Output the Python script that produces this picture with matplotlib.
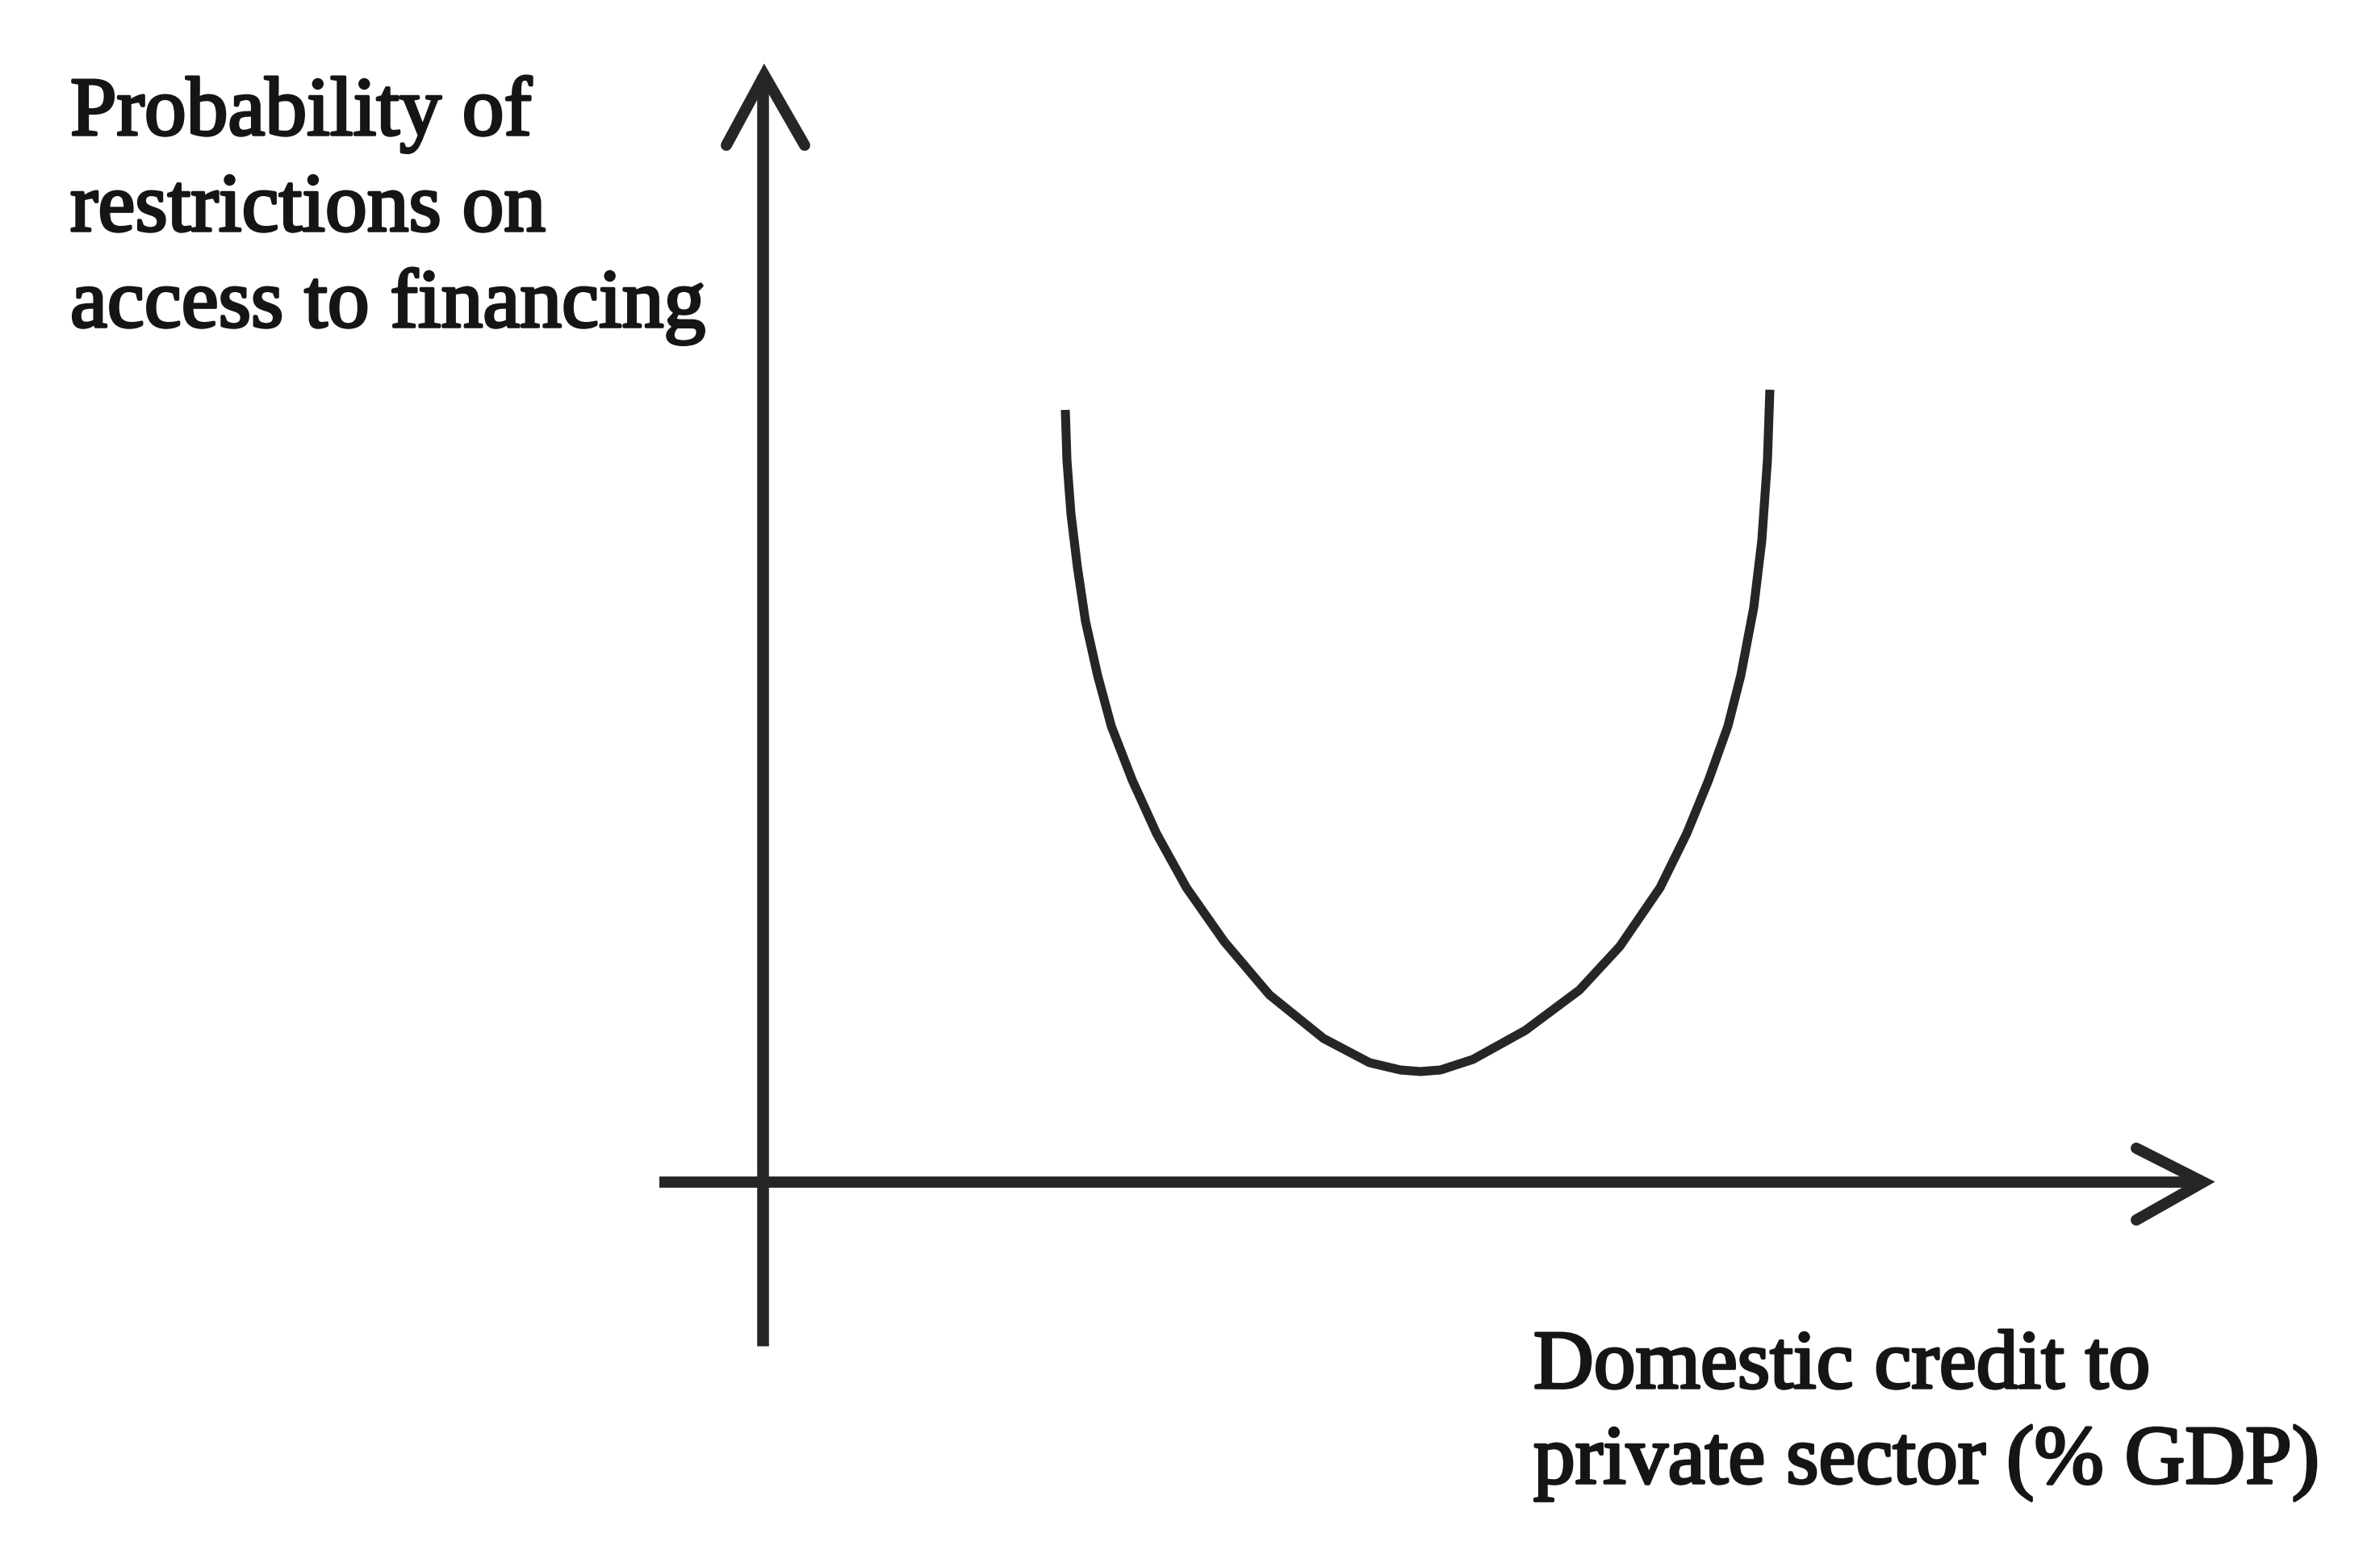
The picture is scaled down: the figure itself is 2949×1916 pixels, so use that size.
import matplotlib.pyplot as plt
import matplotlib.patheffects as pe

# U-shaped curve (origin at the axes crossing, y up)
curve_x = [375, 377, 382, 390, 400, 415, 432, 458, 488, 525, 572, 628,
           695, 752, 790, 815, 840, 880, 945, 1012, 1062, 1112, 1145, 1172,
           1196, 1212, 1228, 1238, 1245, 1248]
curve_y = [957, 895, 828, 762, 695, 628, 565, 498, 432, 365, 298, 232,
           178, 148, 139, 137, 139, 152, 188, 238, 292, 365, 432, 498,
           565, 628, 712, 795, 895, 982]

y_label = ["Probability of", "restrictions on", "access to financing"]
x_label = ["Domestic credit to", "private sector (% GDP)"]

ink = "#262626"

fig = plt.figure(figsize=(29.49, 19.16), dpi=100)
ax = fig.add_axes([0, 0, 1, 1])
ax.set_xlim(-945, 2004)
ax.set_ylim(-451, 1465)
ax.axis("off")

# axes with open arrow heads
ax.plot([-128, 1785], [0, 0], color=ink, lw=10, solid_capstyle="butt")
ax.plot([0, 0], [-203, 1372], color=ink, lw=10.5, solid_capstyle="butt")
ax.plot([-45, 2, 52], [1285, 1372, 1285], color=ink, lw=10,
        solid_joinstyle="miter", solid_capstyle="round")
ax.plot([1702, 1785, 1702], [42, 0, -47], color=ink, lw=10,
        solid_joinstyle="miter", solid_capstyle="round")

ax.plot(curve_x, curve_y, color=ink, lw=8, solid_joinstyle="round",
        solid_capstyle="butt")

font = dict(family="Liberation Serif", fontsize=74.5, color="#151515",
            va="baseline", ha="left",
            path_effects=[pe.withStroke(linewidth=2.5, foreground="#151515")])
for i, line in enumerate(y_label):
    ax.text(-858, 1298 - i * 119, line, **font)
for i, line in enumerate(x_label):
    ax.text(955, -255 - i * 118, line, **font)

fig.savefig("out.png", dpi=100, facecolor="white")
